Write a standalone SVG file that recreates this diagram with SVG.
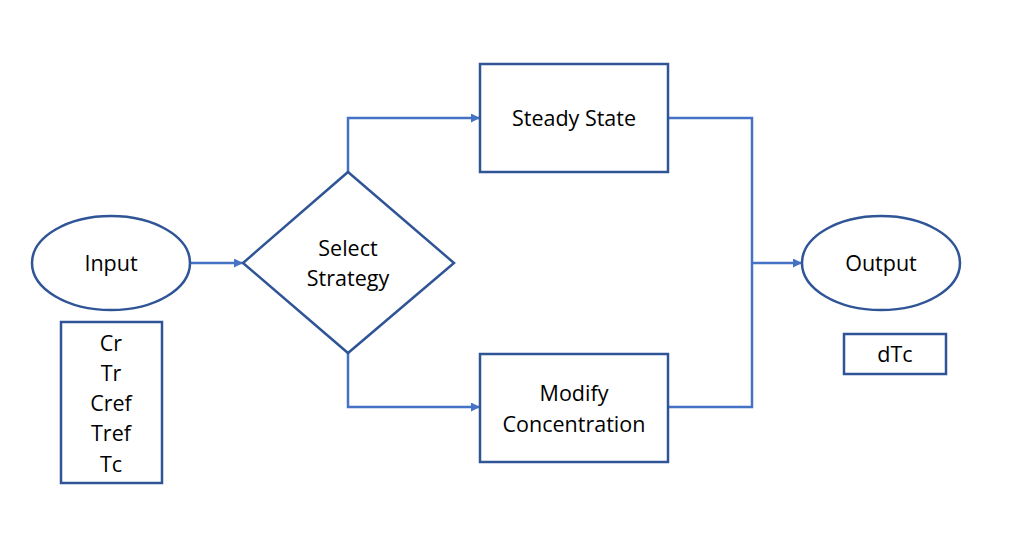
<svg xmlns="http://www.w3.org/2000/svg" width="1031" height="553" viewBox="0 0 1031 553">
<defs>
<style>
.node{fill:#fff;stroke:#2F5597;stroke-width:2.5}
.conn{fill:none;stroke:#4472C4;stroke-width:2.5}
text{font-family:"Open Sans","Noto Sans","Liberation Sans",sans-serif;font-size:21.5px;fill:#000;text-anchor:middle;dominant-baseline:central}
</style>
<marker id="arr" viewBox="0 0 10 10" refX="10" refY="5" markerWidth="3.6" markerHeight="3.6" orient="auto" markerUnits="strokeWidth">
<path d="M0,0 L10,5 L0,10 z" fill="#4472C4"/>
</marker>
</defs>
<rect width="1031" height="553" fill="#fff"/>
<g id="connectors">
<path class="conn" d="M190,263 H243" marker-end="url(#arr)"/>
<path class="conn" d="M348,172 V118 H480" marker-end="url(#arr)"/>
<path class="conn" d="M348,353 V407 H480" marker-end="url(#arr)"/>
<path class="conn" d="M668,118 H752 V407 H668"/>
<path class="conn" d="M752,263 H802" marker-end="url(#arr)"/>
</g>
<g id="input">
<ellipse class="node" cx="111" cy="263" rx="79" ry="47"/>
<text x="111" y="262">Input</text>
</g>
<g id="input-list">
<rect class="node" x="61" y="322" width="101" height="161"/>
<text x="111" y="342">Cr</text>
<text x="111" y="372">Tr</text>
<text x="111" y="402">Cref</text>
<text x="111" y="432">Tref</text>
<text x="111" y="463">Tc</text>
</g>
<g id="select-strategy">
<polygon class="node" points="348,172 454,263 348,353 243,263"/>
<text x="348" y="247">Select</text>
<text x="348" y="277">Strategy</text>
</g>
<g id="steady-state">
<rect class="node" x="480" y="64" width="188" height="108"/>
<text x="574" y="117">Steady State</text>
</g>
<g id="modify-concentration">
<rect class="node" x="480" y="354" width="188" height="108"/>
<text x="574" y="392">Modify</text>
<text x="574" y="423">Concentration</text>
</g>
<g id="output">
<ellipse class="node" cx="881" cy="263" rx="79" ry="47"/>
<text x="881" y="262">Output</text>
</g>
<g id="output-list">
<rect class="node" x="844" y="334" width="102" height="40"/>
<text x="895" y="353">dTc</text>
</g>
</svg>
